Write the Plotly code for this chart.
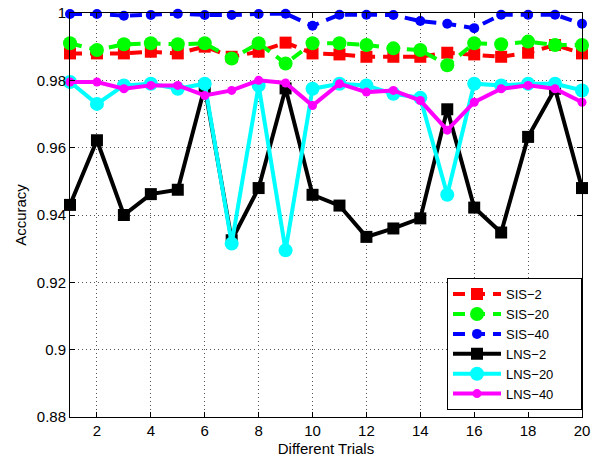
import plotly.graph_objects as go

trials = list(range(1, 21))
sis2 = [0.988, 0.988, 0.988, 0.9885, 0.988, 0.990, 0.987, 0.9885, 0.9912, 0.988,
        0.9877, 0.987, 0.987, 0.987, 0.9882, 0.9877, 0.987, 0.9882, 0.9905, 0.988]
sis20 = [0.991, 0.989, 0.9907, 0.991, 0.9907, 0.991, 0.9865, 0.991, 0.985, 0.991,
         0.991, 0.9905, 0.9895, 0.989, 0.9845, 0.991, 0.9907, 0.9915, 0.9905, 0.9905]
sis40 = [0.9997, 0.9997, 0.9992, 0.9994, 0.9998, 0.9994, 0.9994, 0.9997, 0.9998, 0.9962,
         0.9995, 0.9995, 0.9994, 0.9976, 0.9968, 0.9955, 0.9995, 0.9995, 0.9995, 0.9968]
lns2 = [0.943, 0.9622, 0.940, 0.9462, 0.9475, 0.978, 0.9325, 0.948, 0.9776, 0.946,
        0.9428, 0.9335, 0.936, 0.939, 0.9714, 0.9422, 0.9348, 0.9632, 0.9775, 0.948]
lns20 = [0.9795, 0.973, 0.9785, 0.979, 0.9775, 0.979, 0.9315, 0.9785, 0.9295, 0.9775,
         0.979, 0.9785, 0.976, 0.9748, 0.946, 0.979, 0.9785, 0.979, 0.979, 0.977]
lns40 = [0.9795, 0.9795, 0.9775, 0.9785, 0.9785, 0.9755, 0.977, 0.980, 0.9792, 0.9725,
         0.979, 0.9765, 0.977, 0.974, 0.9652, 0.9735, 0.9775, 0.9785, 0.9775, 0.9735]

yticks = [0.88, 0.9, 0.92, 0.94, 0.96, 0.98, 1.0]
yticklabels = ["0.88", "0.9", "0.92", "0.94", "0.96", "0.98", "1"]
xticks = list(range(2, 21, 2))
series_names = ["SIS\u22122", "SIS\u221220", "SIS\u221240", "LNS\u22122", "LNS\u221220", "LNS\u221240"]

styles = [
    ("#ff0000", "dash", "square", 12),
    ("#00ff00", "dash", "circle", 14),
    ("#0000ff", "dash", "circle", 10),
    ("#000000", "solid", "square", 12),
    ("#00ffff", "solid", "circle", 14),
    ("#ff00ff", "solid", "circle", 9),
]
series_values = [sis2, sis20, sis40, lns2, lns20, lns40]

FONT = "Liberation Sans, Arial, Helvetica, sans-serif"
PAD = "\u00a0" * 6

fig = go.Figure()
for name, vals, (color, dash, sym, size) in zip(series_names, series_values, styles):
    fig.add_trace(go.Scatter(
        x=trials, y=vals, name=name + PAD, mode="lines+markers",
        line=dict(color=color, width=4, dash=("12px,8px" if dash == "dash" else "solid")),
        marker=dict(color=color, symbol=sym, size=size, line=dict(width=0)),
        cliponaxis=False,
    ))

axis_common = dict(
    showline=True, linecolor="black", linewidth=1, mirror="allticks",
    ticks="inside", ticklen=5, tickcolor="black",
    showgrid=True, gridcolor="#555555", gridwidth=1, griddash="1px,3px",
    zeroline=False, automargin=False, ticklabeloverflow="allow",
    tickfont=dict(family=FONT, size=15, color="black"),
)

fig.update_layout(
    width=596, height=459,
    margin=dict(l=70, r=14, t=13, b=42),
    paper_bgcolor="white", plot_bgcolor="white",
    showlegend=True,
    legend=dict(
        x=1, y=0.017, xanchor="right", yanchor="bottom",
        bgcolor="white", bordercolor="black", borderwidth=1,
        font=dict(family=FONT, size=13, color="black"),
        tracegroupgap=0, itemwidth=48,
    ),
    font=dict(family=FONT, color="black"),
)
fig.update_xaxes(
    range=[1, 20], tickvals=xticks, ticktext=[str(t) for t in xticks],
    title=dict(text="Different Trials", font=dict(size=15), standoff=5),
    **axis_common,
)
fig.update_yaxes(
    range=[0.88, 1.0], tickvals=yticks, ticktext=yticklabels,
    title=dict(text="Accuracy", font=dict(size=15), standoff=6),
    **axis_common,
)

# remove the browser's default page margin so the 596x459 canvas fills the window
fig.write_html(
    "out.html",
    config={"displayModeBar": False},
    post_script="document.body.style.margin='0';document.documentElement.style.margin='0';",
)
